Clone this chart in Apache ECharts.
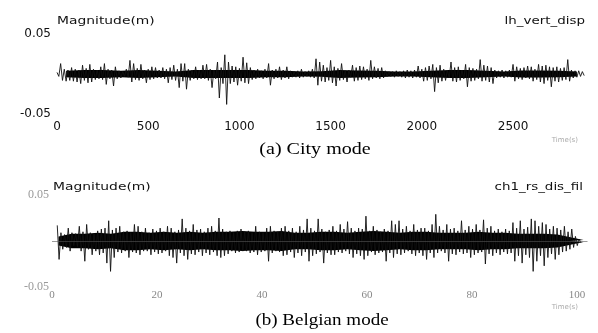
<!DOCTYPE html>
<html>
<head>
<meta charset="utf-8">
<script src="https://cdn.jsdelivr.net/npm/echarts@6/dist/echarts.min.js"></script>
<style>
  html, body { margin: 0; background: #fff; }
  #chart { width: 598px; height: 333px; }
</style>
</head>
<body>
<div id="chart"></div>
<script>
// (a) city mode - lh_vert_disp, peak values per 20 s column, in mm
const cityStart = 0, cityStep = 20;
const cityHigh = [2,13,6,5,8,6,5,11,7,12,6,5,9,13,6,5,9,4,3,6,
  17,13,7,12,5,6,9,8,5,8,6,8,11,6,13,13,6,5,9,5,
  11,12,6,5,15,8,24,15,10,9,7,21,14,8,5,6,4,6,13,5,
  6,9,5,9,4,3,4,6,3,4,6,19,15,11,8,17,9,7,13,4,
  5,11,8,10,9,6,17,9,7,8,4,3,3,4,3,4,5,4,5,10,
  6,8,10,12,8,11,6,5,15,8,9,5,12,8,7,6,18,11,10,8,
  5,4,5,4,5,12,9,7,8,10,9,6,12,10,11,9,8,9,7,8,
  18,5,4,4,3];
const cityLow = [-3,-8,-9,-8,-9,-10,-12,-8,-11,-10,-7,-6,-7,-13,-6,-15,-6,-5,-3,-4,
  -10,-7,-8,-6,-11,-7,-6,-5,-5,-6,-11,-7,-8,-17,-9,-19,-8,-6,-7,-6,
  -6,-8,-17,-6,-30,-12,-38,-12,-10,-14,-9,-11,-12,-7,-6,-5,-6,-5,-14,-6,
  -5,-7,-5,-6,-4,-4,-5,-4,-3,-4,-5,-14,-9,-10,-8,-11,-15,-8,-7,-10,
  -4,-9,-8,-7,-6,-8,-6,-5,-6,-5,-3,-3,-4,-3,-4,-5,-4,-5,-4,-5,
  -9,-8,-6,-22,-11,-9,-8,-5,-9,-10,-8,-6,-16,-9,-8,-6,-9,-8,-10,-12,
  -5,-4,-5,-4,-4,-9,-6,-7,-5,-6,-9,-7,-10,-12,-8,-16,-9,-10,-8,-7,
  -9,-5,-4,-3,-2];
// dense core of the trace, half width per 100 s, in mm
const cityCoreStep = 100;
const cityCore = [4,5,5,4,5,4,3,5,5,5,5,4,4,3,3.5,5,4.5,4,3,3,
  4,5,5,4,3,4.5,4.5,4,3];

// (b) Belgian mode - ch1_rs_dis_fil, peak values per 0.7 s column, in mm
const belgStart = 1, belgStep = 0.7;
const belgHigh = [17,9,7,14,9,8,16,10,18,9,8,11,13,14,22,12,14,16,10,11,
  9,18,16,10,14,9,13,11,14,10,16,14,10,12,24,14,11,18,12,13,
  10,14,16,11,25,13,10,11,9,11,13,10,11,9,16,10,9,14,16,11,
  10,14,16,11,14,10,16,12,24,14,11,24,13,10,12,16,11,18,13,21,
  14,11,14,13,27,11,16,12,10,13,11,22,18,22,13,16,11,18,12,14,
  14,11,18,29,16,12,18,13,14,11,22,12,16,13,18,12,23,14,16,11,
  13,10,13,11,20,14,22,13,15,24,22,16,20,18,13,16,14,12,16,10,
  13,5,2];
const belgLow = [-20,-9,-7,-11,-5,-6,-11,-22,-9,-15,-11,-15,-13,-24,-33,-18,-12,-13,-11,-18,
  -12,-13,-15,-11,-11,-15,-12,-14,-13,-11,-16,-18,-24,-13,-16,-20,-14,-15,-12,-16,
  -13,-15,-12,-16,-18,-16,-14,-11,-13,-12,-11,-11,-13,-12,-15,-12,-11,-22,-13,-11,
  -12,-16,-15,-12,-18,-13,-16,-12,-22,-16,-14,-12,-24,-13,-15,-15,-12,-13,-11,-14,
  -18,-14,-16,-20,-16,-12,-15,-13,-12,-22,-13,-18,-14,-15,-13,-11,-14,-16,-13,-16,
  -20,-13,-18,-13,-11,-13,-22,-14,-15,-12,-14,-13,-18,-15,-13,-12,-25,-14,-16,-13,
  -15,-12,-14,-13,-22,-16,-24,-15,-18,-33,-22,-16,-27,-18,-14,-20,-15,-12,-11,-9,
  -7,-5,-2];
// dense core, half width per 2.5 s, in mm
const belgCoreStep = 2.5;
const belgCore = [5,8,8,9,8,10,10,9,10,9,10,9,10,10,11,10,10,11,9,9,
  10,10,9,10,11,10,9,10,10,9,9,9,10,9,9,8,8,8,7,4,1];

// axis ticks
const cityXTicks = [0, 500, 1000, 1500, 2000, 2500];
const belgXTicks = [0, 20, 40, 60, 80, 100];
const yTicks = [-0.05, 0.05];

// turn column peaks into an up/down trace
function trace(start, step, high, low) {
  const pts = [];
  high.forEach((h, i) => {
    const t = start + i * step;
    pts.push([t, h / 1000]);
    pts.push([t + step / 2, low[i] / 1000]);
  });
  return pts;
}

function coreBand(step, core, sign) {
  return core.map((c, i) => [i * step + step / 2, sign * c / 1000]);
}

const sans = 'DejaVu Sans';
const serif = 'Liberation Serif';

function yAxisFor(idx, color, font, size, margin) {
  return {
    gridIndex: idx, type: 'value',
    min: yTicks[0], max: yTicks[1], interval: 0.05,
    axisLine: {show: false}, axisTick: {show: false}, splitLine: {show: false},
    axisLabel: {
      color: color, fontFamily: font, fontSize: size, margin: margin,
      formatter: v => (Math.abs(v) < 1e-9 ? '' : v.toFixed(2))
    }
  };
}

function xAxisFor(idx, ticks, max, color, font, size, margin) {
  return {
    gridIndex: idx, type: 'value',
    min: ticks[0], max: max, interval: ticks[1] - ticks[0],
    axisLine: {show: false}, axisTick: {show: false}, splitLine: {show: false},
    axisLabel: {
      color: color, fontFamily: font, fontSize: size, margin: margin,
      showMaxLabel: false,
      formatter: v => String(v)
    }
  };
}

function label(text, x, y, font, size, color, align, scaleX) {
  return {
    type: 'text', x: x, y: y, scaleX: scaleX || 1,
    style: {
      text: text, font: size + 'px "' + font + '"', fill: color,
      textAlign: align, textVerticalAlign: 'middle'
    }
  };
}

function coreSeries(idx, step, core, sign) {
  return {
    type: 'line', xAxisIndex: idx, yAxisIndex: idx,
    data: coreBand(step, core, sign),
    showSymbol: false, symbol: 'none',
    lineStyle: {width: 0},
    areaStyle: {color: '#000', opacity: 1}
  };
}

var myChart = echarts.init(document.getElementById('chart'));
myChart.setOption({
  animation: false,
  backgroundColor: '#fff',
  grid: [
    {left: 57, top: 34, width: 529, height: 80},
    {left: 52, top: 195, width: 535.5, height: 92}
  ],
  xAxis: [
    xAxisFor(0, cityXTicks, 2900, '#111', sans, 12, 7),
    xAxisFor(1, belgXTicks, 102, '#888', serif, 11, 3)
  ],
  yAxis: [
    yAxisFor(0, '#111', sans, 12, 6),
    yAxisFor(1, '#999', serif, 12, 3)
  ],
  series: [
    coreSeries(0, cityCoreStep, cityCore, 1),
    coreSeries(0, cityCoreStep, cityCore, -1),
    {
      type: 'line', xAxisIndex: 0, yAxisIndex: 0,
      data: trace(cityStart, cityStep, cityHigh, cityLow),
      showSymbol: false, symbol: 'none', sampling: null,
      lineStyle: {color: '#111', width: 0.9}
    },
    coreSeries(1, belgCoreStep, belgCore, 1),
    coreSeries(1, belgCoreStep, belgCore, -1),
    {
      type: 'line', xAxisIndex: 1, yAxisIndex: 1,
      data: trace(belgStart, belgStep, belgHigh, belgLow),
      showSymbol: false, symbol: 'none', sampling: null,
      lineStyle: {color: '#111', width: 0.9},
      markLine: {
        silent: true, symbol: 'none', label: {show: false},
        lineStyle: {color: '#555', width: 0.6, type: 'solid'},
        data: [{yAxis: 0}]
      }
    }
  ],
  graphic: [
    label('Magnitude(m)', 57, 21, sans, 11, '#111', 'left', 1.26),
    label('lh_vert_disp', 585, 21, sans, 11, '#111', 'right', 1.22),
    label('Time(s)', 578, 140, sans, 7, '#aaa', 'right'),
    label('(a) City mode', 315, 150, serif, 17, '#000', 'center', 1.18),
    label('Magnitude(m)', 53, 187, sans, 11, '#111', 'left', 1.26),
    label('ch1_rs_dis_fil', 583, 187, sans, 11, '#111', 'right', 1.22),
    label('Time(s)', 578, 307, sans, 7, '#aaa', 'right'),
    label('(b) Belgian mode', 322, 321, serif, 17, '#000', 'center', 1.12)
  ]
});
</script>
</body>
</html>
